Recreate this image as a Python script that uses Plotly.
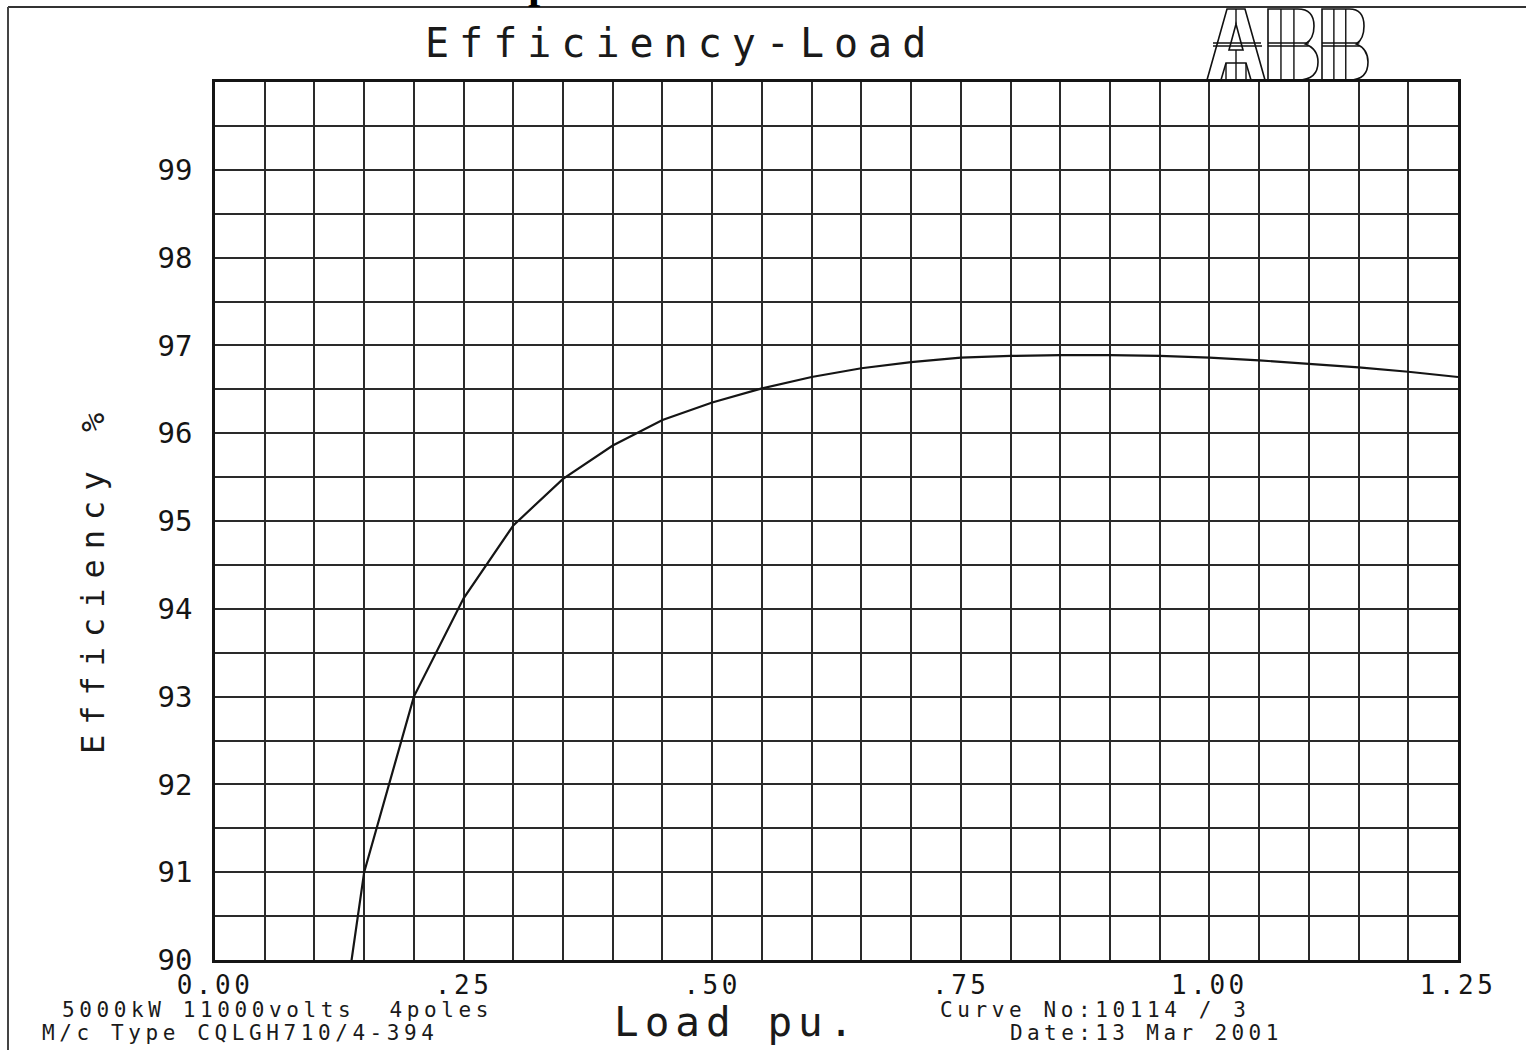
import plotly.graph_objects as go

# ---------------- data ----------------
load = [0.10, 0.15, 0.20, 0.25, 0.30, 0.35, 0.40, 0.45, 0.50, 0.55, 0.60, 0.65,
        0.70, 0.75, 0.80, 0.85, 0.90, 0.95, 1.00, 1.05, 1.10, 1.15, 1.20, 1.25]
efficiency = [87.05, 91.00, 93.00, 94.12, 94.95, 95.48, 95.86, 96.15, 96.35, 96.51,
              96.64, 96.74, 96.81, 96.86, 96.88, 96.89, 96.89, 96.88, 96.86, 96.83,
              96.79, 96.75, 96.70, 96.64]
x_tickvals = [0.0, 0.25, 0.50, 0.75, 1.00, 1.25]
x_ticktext = ["0.00", ".25", ".50", ".75", "1.00", "1.25"]
y_tickvals = [90, 91, 92, 93, 94, 95, 96, 97, 98, 99]
y_ticktext = ["90", "91", "92", "93", "94", "95", "96", "97", "98", "99"]

title_text = "Efficiency-Load"
x_title = "Load pu."
y_title = "Efficiency %"
info_left = ["5000kW 11000volts  4poles", "M/c Type CQLGH710/4-394"]
info_right = ["Curve No:10114 / 3", "Date:13 Mar 2001"]

# ---------------- layout helpers ----------------
W, H = 1526, 1050
PL, PR, PT, PB = 215, 1458, 82, 960
MONO = "DejaVu Sans Mono"
INK = "#151515"


def X(px):
    return (px - PL) / (PR - PL)


def Y(py):
    return (PB - py) / (PB - PT)


def sp(text, ls):
    return f'<span style="letter-spacing:{ls}px">{text}</span>'


fig = go.Figure()
fig.add_trace(go.Scatter(x=load, y=efficiency, mode="lines",
                         line=dict(color=INK, width=2.2), hoverinfo="skip",
                         showlegend=False))

grid = dict(showgrid=True, gridcolor="#2a2a2a", gridwidth=2)
fig.update_xaxes(range=[0, 1.25], tickvals=x_tickvals,
                 ticktext=[sp(t, 3.5) for t in x_ticktext],
                 tickfont=dict(family=MONO, size=26, color=INK),
                 ticks="", ticklabelstandoff=0, zeroline=False,
                 showline=True, linecolor=INK, linewidth=2.5, mirror=True,
                 minor=dict(dtick=0.05, tick0=0, ticks="", **grid), **grid)
fig.update_yaxes(range=[90, 100], tickvals=y_tickvals, ticktext=y_ticktext,
                 tickfont=dict(family=MONO, size=29, color=INK),
                 ticks="", ticklabelstandoff=14, zeroline=False,
                 showline=True, linecolor=INK, linewidth=2.5, mirror=True,
                 minor=dict(dtick=0.5, tick0=90, ticks="", **grid), **grid)

ann = []


def text(t, px, py, size, ls, xanchor="center", angle=0, family=MONO, color="#1a1a1a"):
    ann.append(dict(text=sp(t, ls) if ls else t, x=X(px), y=Y(py), xref="paper", yref="paper",
                    showarrow=False, xanchor=xanchor, yanchor="middle", textangle=angle,
                    font=dict(family=family, size=size, color=color)))


text(title_text, 680, 43, 40, 10)
text(x_title, 736, 1022, 41, 6)
text(y_title, 93, 579, 32, 10, angle=-90)
text(info_left[0], 60, 1010, 21, 4.6, xanchor="left")
text(info_left[1], 40, 1033, 21, 4.6, xanchor="left")
text(info_right[0], 938, 1010, 21, 4.6, xanchor="left")
text(info_right[1], 1008, 1033, 21, 4.4, xanchor="left")
# fragment of text from the page above (only the descender is visible)
ann.append(dict(text="<b>p</b>", x=X(540), y=Y(10), xref="paper", yref="paper",
                showarrow=False, xanchor="center", yanchor="bottom",
                font=dict(family="Liberation Serif", size=44, color="#000")))

# ---------------- frame lines of the sheet ----------------
shapes = [
    dict(type="line", xref="paper", yref="paper", x0=X(8), x1=X(1526), y0=Y(7), y1=Y(7),
         line=dict(color="#333", width=2)),
    dict(type="line", xref="paper", yref="paper", x0=X(8), x1=X(8), y0=Y(7), y1=Y(1050),
         line=dict(color="#444", width=2)),
]


def P(px, py):
    return f"{X(px):.5f},{Y(py):.5f}"


def path(d, width=1.6):
    shapes.append(dict(type="path", xref="paper", yref="paper", path=d,
                       line=dict(color="#111", width=width), fillcolor="rgba(0,0,0,0)"))


def seg(x0, y0, x1, y1, width=1.4):
    shapes.append(dict(type="line", xref="paper", yref="paper", x0=X(x0), y0=Y(y0),
                       x1=X(x1), y1=Y(y1), line=dict(color="#111", width=width)))


# ABB logo (outlined strips)
path(f"M{P(1207,80)} L{P(1227,9)} L{P(1245,9)} L{P(1265,80)} L{P(1251,80)} L{P(1246,63)} "
     f"L{P(1226,63)} L{P(1221,80)} Z")
path(f"M{P(1229,50)} L{P(1243,50)} L{P(1236,24)} Z")
seg(1236, 9, 1236, 24)
seg(1236, 50, 1236, 80)
seg(1226, 63, 1226, 80)
seg(1246, 63, 1246, 80)
seg(1213, 43, 1261, 43)
seg(1213, 46, 1262, 46)


def letter_b(x0, w):
    xr = x0 + w
    path(f"M{P(x0,9)} L{P(x0+w*0.62,9)} Q{P(xr-2,9)} {P(xr-2,26)} Q{P(xr-2,39)} {P(x0+w*0.78,44)} "
         f"Q{P(xr+2,49)} {P(xr+2,62)} Q{P(xr+2,80)} {P(x0+w*0.62,80)} L{P(x0,80)} Z")
    seg(x0 + w * 0.27, 9, x0 + w * 0.27, 80)
    seg(x0 + w * 0.54, 9, x0 + w * 0.54, 80)
    seg(x0, 43, x0 + w * 0.85, 43)
    seg(x0, 46, x0 + w * 0.85, 46)


letter_b(1268, 48)
letter_b(1322, 44)

fig.update_layout(width=W, height=H, margin=dict(l=PL, r=W - PR, t=PT, b=H - PB),
                  plot_bgcolor="white", paper_bgcolor="white",
                  annotations=ann, shapes=shapes, showlegend=False)

fig.write_html("out.html", config={"displayModeBar": False},
               post_script="document.body.style.margin='0';document.body.style.overflow='hidden';")
